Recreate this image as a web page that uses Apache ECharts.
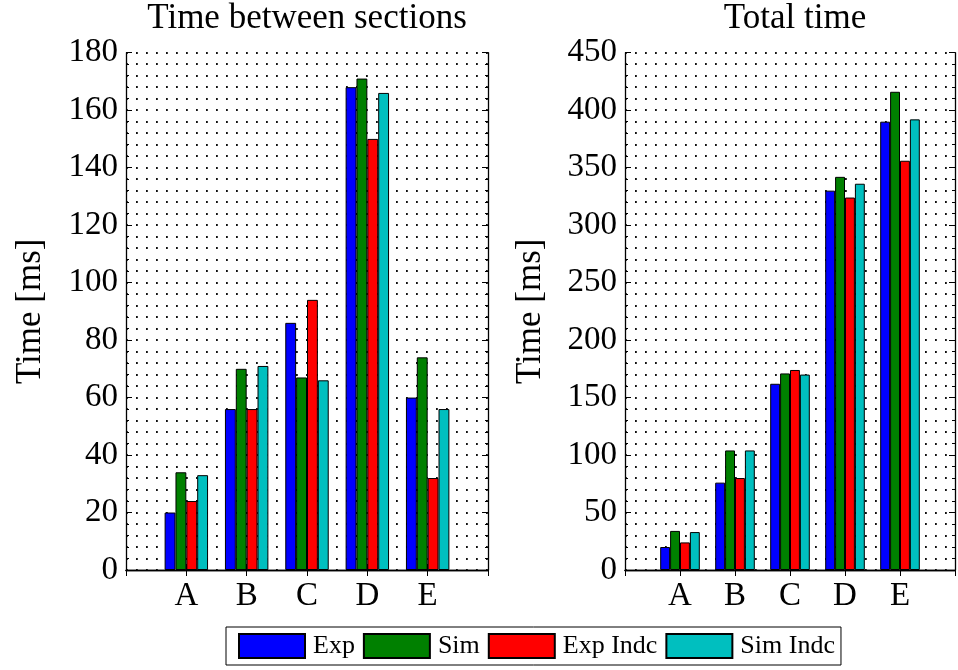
<!DOCTYPE html>
<html>
<head>
<meta charset="utf-8">
<script src="https://cdn.jsdelivr.net/npm/echarts@6/dist/echarts.min.js"></script>
<style>
  html, body { margin: 0; padding: 0; background: #fff; }
  #chart { width: 958px; height: 670px; }
</style>
</head>
<body>
<div id="chart"></div>
<script>
// categories (padded with empty slots so A..E sit on ticks 1..5)
const categories = ['A', 'B', 'C', 'D', 'E'];
const seriesNames = ['Exp', 'Sim', 'Exp Indc', 'Sim Indc'];
const colors = ['#0000ff', '#008000', '#ff0000', '#00bfbf'];

// Time between sections [ms]
const betweenExp = [20, 56, 86, 168, 60];
const betweenSim = [34, 70, 67, 171, 74];
const betweenExpIndc = [24, 56, 94, 150, 32];
const betweenSimIndc = [33, 71, 66, 166, 56];

// Total time [ms]
const totalExp = [20, 76, 162, 330, 390];
const totalSim = [34, 104, 171, 342, 416];
const totalExpIndc = [24, 80, 174, 324, 356];
const totalSimIndc = [33, 104, 170, 336, 392];

const leftTicks = { min: 0, max: 180, interval: 20 };
const rightTicks = { min: 0, max: 450, interval: 50 };

const FONT = 'Liberation Serif';
const pad = arr => [null].concat(arr, [null]);
const cats = [''].concat(categories, ['']);

const dotLine = { color: '#111', width: 1.8, type: [1.8, 8.2] };

function xAxes(gridIndex) {
  return [
    {
      gridIndex, type: 'category', data: cats, boundaryGap: false, position: 'bottom',
      axisLine: { lineStyle: { color: '#000', width: 1.3 } },
      axisTick: { inside: true, length: 6, interval: 0, lineStyle: { color: '#000' } },
      axisLabel: { interval: 0, color: '#000', fontFamily: FONT, fontSize: 33, margin: 10 },
      splitLine: { show: false }
    },
    {
      gridIndex, type: 'category', data: cats, boundaryGap: false, position: 'top',
      axisLine: { lineStyle: { color: '#000', width: 1.3 } },
      axisTick: { inside: true, length: 6, interval: 0, lineStyle: { color: '#000' } },
      axisLabel: { show: false },
      splitLine: { show: false }
    }
  ];
}

function yAxes(gridIndex, t, gap) {
  const base = {
    gridIndex, type: 'value', min: t.min, max: t.max, interval: t.interval,
    axisLine: { show: true, lineStyle: { color: '#000', width: 1.3 } },
    axisTick: { show: true, inside: true, length: 6, lineStyle: { color: '#000' } },
    minorTick: { show: true, splitNumber: 5, length: 3, lineStyle: { color: '#000' } }
  };
  return [
    Object.assign({}, base, {
      position: 'left',
      name: 'Time [ms]', nameLocation: 'middle', nameRotate: 90, nameGap: gap,
      nameTextStyle: { color: '#000', fontFamily: FONT, fontSize: 35 },
      axisLabel: { color: '#000', fontFamily: FONT, fontSize: 33, margin: 8 },
      splitLine: { show: true, lineStyle: dotLine },
      minorSplitLine: { show: true, lineStyle: dotLine }
    }),
    Object.assign({}, base, {
      position: 'right',
      axisLabel: { show: false },
      splitLine: { show: false }
    })
  ];
}

function bars(index, lists) {
  return lists.map((vals, i) => ({
    name: seriesNames[i],
    type: 'bar',
    xAxisIndex: index * 2,
    yAxisIndex: index * 2,
    data: pad(vals),
    barGap: '0%',
    barCategoryGap: '28%',
    itemStyle: { color: colors[i], borderColor: '#000', borderWidth: 1 }
  }));
}

const chart = echarts.init(document.getElementById('chart'));
chart.setOption({
  animation: false,
  backgroundColor: '#fff',
  title: [
    { text: 'Time between sections', left: 307, top: 1, textAlign: 'center', padding: 0,
      textStyle: { fontFamily: FONT, fontSize: 35, fontWeight: 'normal', color: '#000' } },
    { text: 'Total time', left: 795, top: 1, textAlign: 'center', padding: 0,
      textStyle: { fontFamily: FONT, fontSize: 35, fontWeight: 'normal', color: '#000' } }
  ],
  legend: {
    data: seriesNames,
    left: 226, top: 627,
    orient: 'horizontal',
    itemWidth: 66, itemHeight: 24, itemGap: 8,
    padding: [6, 6, 6, 12],
    borderColor: '#000', borderWidth: 1,
    icon: 'rect',
    textStyle: { fontFamily: FONT, fontSize: 26, color: '#000', padding: [0, 0, 0, 3] }
  },
  grid: [
    { left: 126, top: 52.7, width: 362, height: 517.3 },
    { left: 625, top: 52.7, width: 340, height: 517.3 }
  ],
  xAxis: xAxes(0).concat(xAxes(1)),
  yAxis: yAxes(0, leftTicks, 78).concat(yAxes(1, rightTicks, 77)),
  series: bars(0, [betweenExp, betweenSim, betweenExpIndc, betweenSimIndc])
    .concat(bars(1, [totalExp, totalSim, totalExpIndc, totalSimIndc]))
});
</script>
</body>
</html>
